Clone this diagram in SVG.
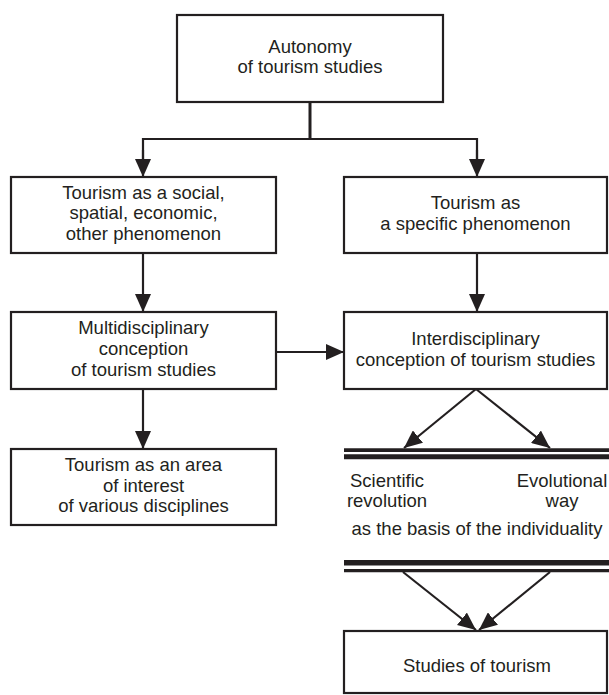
<svg xmlns="http://www.w3.org/2000/svg" width="609" height="695" viewBox="0 0 609 695">
<style>
.box{fill:#fff;stroke:#231f20;stroke-width:2.2}
.t{font-family:"Liberation Sans",Arial,sans-serif;font-size:18.5px;fill:#231f20;text-anchor:middle}
.c{fill:none;stroke:#231f20;stroke-width:2.2}
.d{fill:none;stroke:#231f20}
</style>
<defs>
<marker id="ah" markerUnits="userSpaceOnUse" markerWidth="19" markerHeight="16" refX="18" refY="8" orient="auto">
<path d="M0,0 L18,8 L0,16 z" fill="#231f20"/>
</marker>
</defs>
<rect width="609" height="695" fill="#fff"/>
<g id="connectors">
<line class="c" x1="310" y1="102" x2="310" y2="139" style="stroke-width:3"/>
<polyline class="c" points="143,160 143,139 477,139 477,160"/>
<line class="c" x1="143" y1="150" x2="143" y2="177" marker-end="url(#ah)"/>
<line class="c" x1="477" y1="150" x2="477" y2="177" marker-end="url(#ah)"/>
<line class="c" x1="143" y1="253" x2="143" y2="312" marker-end="url(#ah)"/>
<line class="c" x1="477" y1="253" x2="477" y2="312" marker-end="url(#ah)"/>
<line class="c" x1="276" y1="352" x2="344" y2="352" marker-end="url(#ah)"/>
<line class="c" x1="143" y1="389" x2="143" y2="449" marker-end="url(#ah)"/>
<line class="c" x1="476" y1="389" x2="404" y2="448" marker-end="url(#ah)"/>
<line class="c" x1="476" y1="389" x2="550" y2="448" marker-end="url(#ah)"/>
<line class="d" x1="344" y1="450.2" x2="609" y2="450.2" stroke-width="3.7"/>
<line class="d" x1="344" y1="456.8" x2="609" y2="456.8" stroke-width="5"/>
<line class="d" x1="344" y1="562.8" x2="609" y2="562.8" stroke-width="5.6"/>
<line class="d" x1="344" y1="570.6" x2="609" y2="570.6" stroke-width="3.4"/>
<line class="c" x1="403" y1="572" x2="476" y2="630" marker-end="url(#ah)"/>
<line class="c" x1="550" y1="572" x2="479" y2="630" marker-end="url(#ah)"/>
</g>
<g id="autonomy">
<rect class="box" x="177" y="15" width="266" height="87"/>
<text class="t" x="310" y="53">Autonomy</text>
<text class="t" x="310" y="73">of tourism studies</text>
</g>
<g id="social">
<rect class="box" x="11" y="177" width="265" height="76"/>
<text class="t" x="143.5" y="198.5">Tourism as a social,</text>
<text class="t" x="143.5" y="219">spatial, economic,</text>
<text class="t" x="143.5" y="239.5">other phenomenon</text>
</g>
<g id="specific">
<rect class="box" x="344" y="177" width="263" height="76"/>
<text class="t" x="475.5" y="209">Tourism as</text>
<text class="t" x="475.5" y="229.5">a specific phenomenon</text>
</g>
<g id="multi">
<rect class="box" x="11" y="312" width="265" height="77"/>
<text class="t" x="143.5" y="334">Multidisciplinary</text>
<text class="t" x="143.5" y="355">conception</text>
<text class="t" x="143.5" y="375.5">of tourism studies</text>
</g>
<g id="inter">
<rect class="box" x="344" y="312" width="263" height="77"/>
<text class="t" x="475.5" y="345">Interdisciplinary</text>
<text class="t" x="475.5" y="365.5">conception of tourism studies</text>
</g>
<g id="area">
<rect class="box" x="11" y="449" width="265" height="76"/>
<text class="t" x="143.5" y="471">Tourism as an area</text>
<text class="t" x="143.5" y="491.5">of interest</text>
<text class="t" x="143.5" y="512">of various disciplines</text>
</g>
<g id="basis">
<text class="t" x="387" y="487">Scientific</text>
<text class="t" x="387" y="507">revolution</text>
<text class="t" x="562" y="487">Evolutional</text>
<text class="t" x="562" y="507">way</text>
<text class="t" x="477" y="535">as the basis of the individuality</text>
</g>
<g id="studies">
<rect class="box" x="344" y="631" width="263" height="62"/>
<text class="t" x="477" y="672">Studies of tourism</text>
</g>
</svg>
